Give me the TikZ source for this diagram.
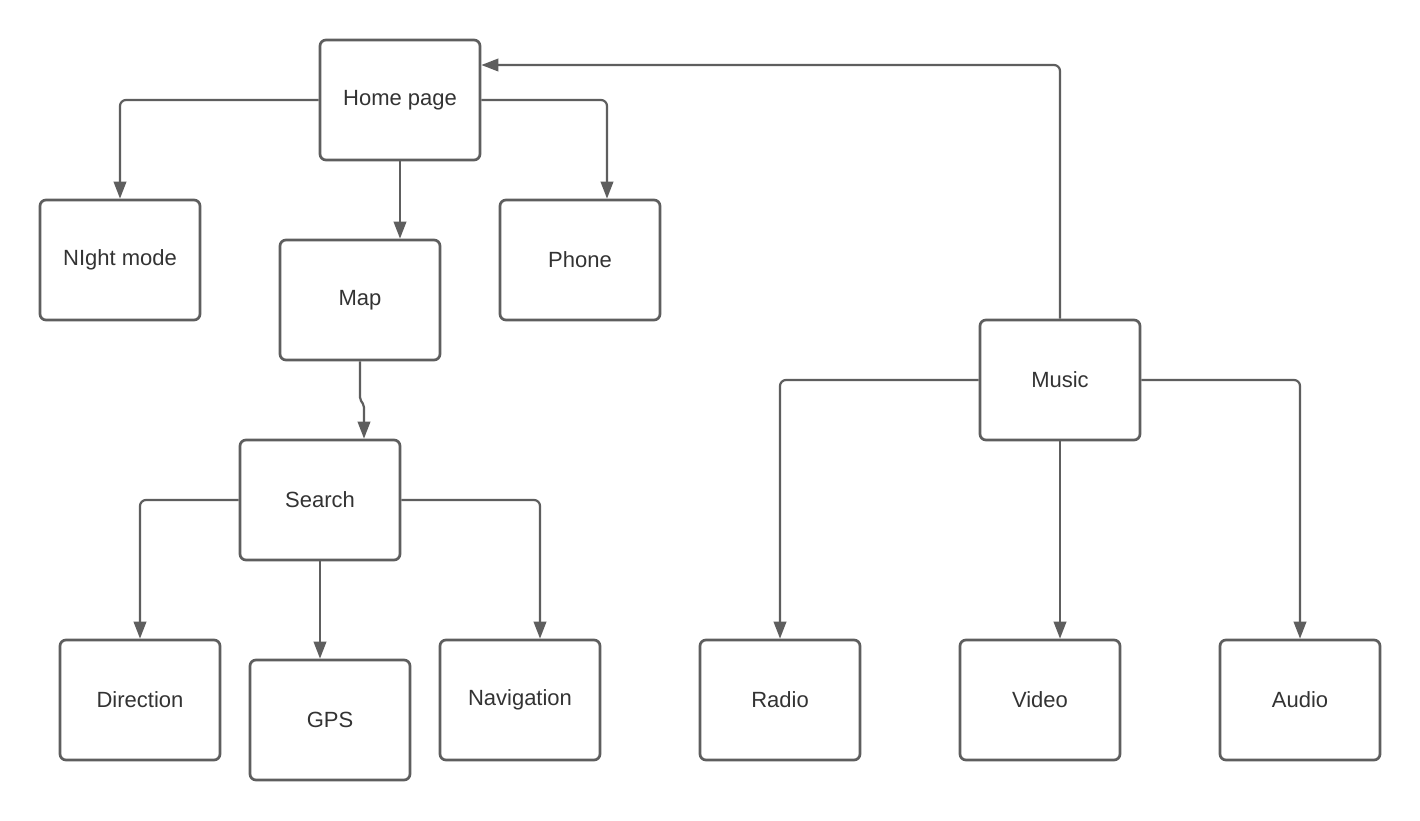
\documentclass[tikz,border=0pt]{standalone}
\usepackage{fontspec}
\setmainfont{Liberation Sans}
\usetikzlibrary{arrows.meta}
\definecolor{ln}{HTML}{5E5E5E}
\definecolor{tx}{HTML}{333333}
\begin{document}
\begin{tikzpicture}[x=1pt,y=-1pt,
  box/.style={draw=ln, line width=2.7pt, rounded corners=6pt, minimum width=160pt, minimum height=120pt, inner sep=0pt, text=tx, font=\fontsize{22}{26}\selectfont},
  conn/.style={draw=ln, line width=2.2pt, rounded corners=6pt, -{Triangle[length=17pt,width=12.5pt]}}]
\useasboundingbox (0,0) rectangle (1420,820);
\fill[white] (0,0) rectangle (1420,820);
\node[box] (home) at (400,100) {Home page};
\node[box] (night) at (120,260) {NIght mode};
\node[box] (map) at (360,300) {Map};
\node[box] (phone) at (580,260) {Phone};
\node[box] (search) at (320,500) {Search};
\node[box] (dir) at (140,700) {Direction};
\node[box] (gps) at (330,720) {GPS};
\node[box] (nav) at (520,700) {Navigation};
\node[box] (music) at (1060,380) {Music};
\node[box] (radio) at (780,700) {Radio};
\node[box] (video) at (1040,700) {Video};
\node[box] (audio) at (1300,700) {Audio};
\draw[conn] (home.west) -| (night.north);
\draw[conn] (home.east) -| ([xshift=27pt]phone.north);
\draw[conn] (home.south) -- (home.south |- map.north);
\draw[conn, rounded corners=2pt] (map.south) -- ([yshift=-38pt]map.south) -- ([xshift=4pt,yshift=-44pt]map.south) -- ([xshift=44pt]search.north);
\draw[conn] (music.north) |- ([yshift=35pt]home.east);
\draw[conn] (search.west) -| (dir.north);
\draw[conn] (search.south) -- (search.south |- gps.north);
\draw[conn] (search.east) -| ([xshift=20pt]nav.north);
\draw[conn] (music.west) -| (radio.north);
\draw[conn] (music.south) -- (music.south |- video.north);
\draw[conn] (music.east) -| (audio.north);
\end{tikzpicture}
\end{document}
